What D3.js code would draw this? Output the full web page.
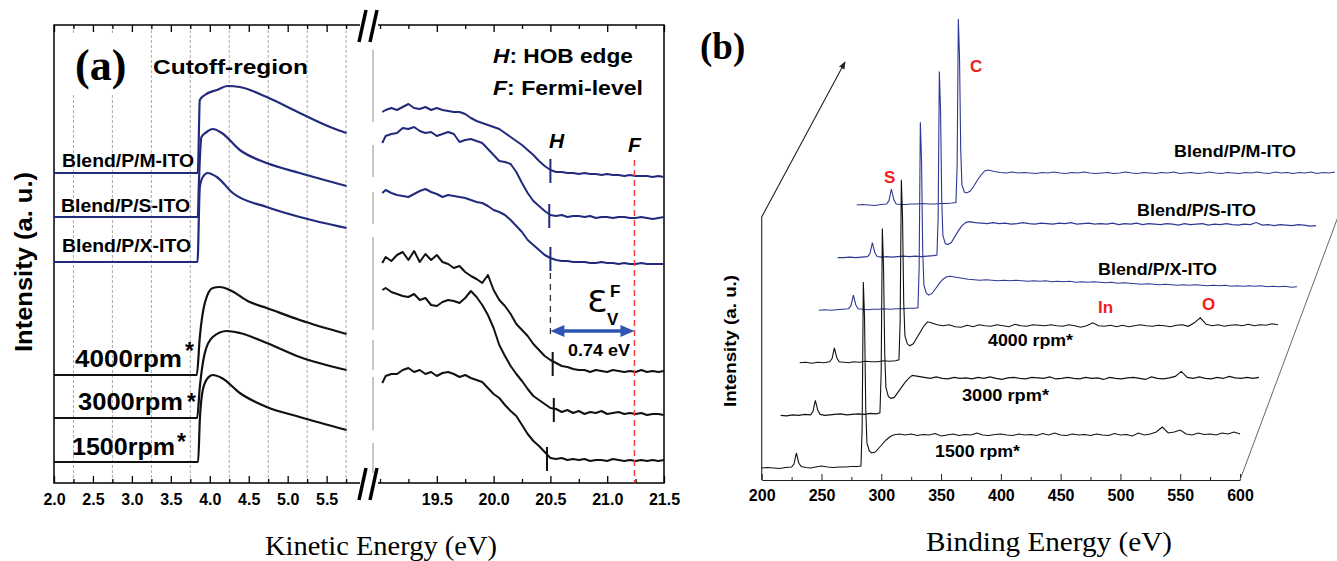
<!DOCTYPE html>
<html>
<head>
<meta charset="utf-8">
<script src="https://d3js.org/d3.v7.min.js"></script>
<style>
  body { margin: 0; background: #fff; }
  svg { display: block; }
</style>
</head>
<body>
<div id="vis"></div>
<script>
  // ---------- panel (a): cutoff region, [kinetic energy eV, intensity a.u.] ----------
  const cutM = [[2.0,310],[3.846,310],[3.872,383],[3.936,388],[4.09,393],[4.231,397],[4.385,396],[4.731,386],[5.154,370],[5.577,355],[5.756,350]]
  const cutS = [[2.0,266],[3.846,266],[3.86,300],[3.893,346],[3.96,351],[4.038,354],[4.154,350],[4.385,333],[4.731,320],[5.154,310],[5.756,297]]
  const cutX = [[2.0,221],[3.842,221],[3.872,296],[3.91,306],[3.974,310],[4.09,306],[4.295,290],[4.731,276],[5.154,266],[5.756,255]]
  const cut4000 = [[2.0,108],[3.833,108],[3.872,146],[3.936,180],[4.038,195],[4.128,196],[4.256,193],[4.513,181],[4.731,175],[5.154,163],[5.756,149]]
  const cut3000 = [[2.0,65],[3.837,65],[3.872,96],[3.936,130],[4.038,146],[4.218,152],[4.385,150],[4.731,140],[5.154,126],[5.756,113]]
  const cut1500 = [[2.0,21],[3.85,21],[3.872,63],[3.91,93],[3.974,105],[4.038,108],[4.154,105],[4.385,90],[4.731,76],[5.154,66],[5.756,53]]

  // ---------- panel (a): valence region ----------
  const valE = [19.02,19.05,19.10,19.15,19.20,19.25,19.30,19.35,19.40,19.45,
    19.50,19.55,19.60,19.65,19.70,19.75,19.80,19.85,19.90,19.95,
    20.00,20.05,20.10,20.15,20.20,20.25,20.30,20.35,20.40,20.45,
    20.50,20.55,20.60,20.65,20.70,20.75,20.80,20.85,20.90,20.95,
    21.00,21.05,21.10,21.15,21.20,21.25,21.30,21.35,21.40,21.45,
    21.50]
  const valM = [371,373,375,373,376,379,375,374,376,373, 375,373,372,371,371,369,365,362,360,358,
    356,354,350,346,342,338,333,328,322,317, 313,311,311,310,310,309,310,309,309,308,
    309,308,308,307,308,307,307,307,306,307, 306]
  const valS = [340,347,349,350,355,354,356,352,350,351, 347,349,351,349,341,343,344,342,340,334,
    328,322,321,319,311,300,290,282,277,272, 268,267,268,266,267,267,266,267,265,266,
    266,265,266,266,265,265,266,265,264,265, 266]
  const valX = [290,293,290,288,287,286,289,292,294,291, 289,286,288,287,286,285,283,281,280,277,
    273,271,268,263,257,251,243,238,233,228, 225,223,222,222,221,221,221,220,220,221,
    220,220,219,220,219,219,220,219,219,219, 219]
  const val4000 = [220,226,222,228,231,223,232,221,229,223, 228,221,219,215,217,211,207,204,200,208,
    193,183,177,169,159,153,147,139,133,127, 123,120,117,116,114,113,113,111,113,112,
    111,113,112,111,112,111,113,111,112,111, 112]
  const val3000 = [193,195,191,189,187,186,189,183,185,178, 177,181,183,182,180,185,192,186,178,168,
    155,138,127,117,109,102,94,87,83,79, 75,74,71,73,70,72,69,71,70,72,
    69,70,71,69,70,69,70,68,69,69, 68]
  const val1500 = [100,107,109,109,113,115,111,113,109,111, 107,110,111,109,106,108,105,103,101,95,
    89,85,78,72,67,58,49,42,37,31, 25,24,25,23,24,23,24,22,23,23,
    22,24,23,22,23,22,23,22,23,22, 23]

  const sampleNames = ['Blend/P/M-ITO', 'Blend/P/S-ITO', 'Blend/P/X-ITO', '4000rpm', '3000rpm', '1500rpm']
  const hobEdge = [20.50, 20.49, 20.50, 20.52, 20.53, 20.47]
  const fermiLevel = 21.24
  const cutTicks = [2.0, 2.5, 3.0, 3.5, 4.0, 4.5, 5.0, 5.5]
  const valTicks = [19.5, 20.0, 20.5, 21.0, 21.5]

  // ---------- panel (b): XPS survey, binding energy eV and intensity above each baseline ----------
  const surveyE = [200,205,210,215,220,225,227,229,231,233, 237,241,245,250,255,260,265,270,275,280,
    283,284,285,286,287,288,290,292,295,298, 301,304,307,310,315,
    320,325,330,335,340,345,350,355,360,365, 370,375,380,385,390,395,400,405,410,415,
    420,425,430,435,440,445,450,455,460,465, 470,475,480,485,490,495,500,505,510,515,
    520,525,530,535,540,545,550,555,560,565, 570,575,580,585,590,595,600]
  const sv1500 = [0,0.5,0,-0.5,0.5,1,4,15,5,1.5, 0.5,0,1,2,1,0.5,1,1,1.5,1.5,
    2,40,186,150,60,25,17,15,16,20, 24,28,31,33,34,
    33,34,32.5,33.5,33,34.5,32,33,34,32.5, 33.5,33,35,33,32.5,33.5,34,33,32.5,34,
    33,33.5,32.5,34.5,33,35,33,32.5,34,33, 33.5,32.5,34,33,32.5,34.5,33,33.5,32,35,
    33,34,36,41,35,36,38,34,33,35, 33.5,34,33,35,34,36,34]
  const sv3000 = [0,-0.5,0.5,0,1,0.5,4,15,5,1, 0,0.5,1,1.5,0.5,1,1.5,1,2,1.5,
    2.5,42,187,148,62,28,19,17,18,23, 28,33,37,40,39,
    38,37,38.5,37,36.5,38,37,37.5,36.5,38, 37,38.5,37,36,37.5,38,37,36.5,38,37.5,
    37,38.5,36.5,37,38,37,36.5,38,37,37.5, 36,38,37,36.5,37.5,38,37,36,38.5,37,
    36.5,37.5,39,44,38,37,38.5,37,36.5,38, 37,39,37.5,37,38,37,38]
  const sv4000 = [0,0.5,-0.5,0.5,0,1,4,15,5,1, 0.5,0,1,0.5,1.5,1,1,2,1.5,2,
    3,41,183,145,60,27,19,17,19,25, 31,37,41,40,38,
    37,38,36,35.5,37.5,36,38,37,36.5,38, 37,36,38.5,37,36.5,38,37.5,37,38,37,
    36.5,38,37,35.5,37,40,37,36.5,37.5,36, 37.5,36,37,38,37,36.5,37.5,37,36,37.5,
    38,36.5,40,45,38.5,37,38,36.5,37.5,38, 37,38.5,37,38,37.5,39,38]
  const svX = [0,0.5,0,0.5,1,1.5,4.5,15,5.5,1.5, 1,0.5,1,1,1.5,1,1.5,1.5,2,2,
    2.5,42,188,150,58,25,17,15,17,22, 27,31,33.5,34,33,
    32,31,30.5,30,30.5,30,29.5,30,29.5,30, 29.5,29,29.5,29,29.5,28.5,29,28.5,29,28,
    28.5,28,28.5,28,27.5,28,27,27.5,27,26.5, 26,26.5,26,25.5,26,25.5,25,25.5,25,25.5,
    25,24.5,25,24.5,25,24,24.5,24,24.5,24, 24.5,23.5,24,23.5,24,23,23.5]
  const svS = [0,0,0.5,0,0.5,1,4,15,5,1, 0.5,1,0.5,1,1.5,1,1.5,1,1.5,2,
    2.5,40,186,148,57,22,14,13,15,21, 27,32,35,36,35,
    34.5,34,35,34,34.5,33.5,34,35,34,33.5, 34.5,34,33.5,34.5,34,35,33.5,34,34.5,33.5,
    34,33.5,34.5,33,34,33.5,34.5,33,34,33.5, 33,34,33.5,32.5,34,33,33.5,34,32.5,33.5,
    33,34,33,32.5,33.5,33,35,32.5,33,32, 33,32.5,32,33,32.5,31.5,32]
  const svM = [0,0.5,0,-0.5,0.5,1,4.5,16,5.5,1, 0.5,0.5,1,1,1.5,1,1,1.5,1.5,2,
    2.5,40,186,147,55,20,13,12,14,19, 25,30,34,35,33.5,
    32.5,32,33,32,32.5,32,31.5,32.5,32,33, 32,31.5,32.5,32,33,32,31.5,32,32.5,31.5,
    32,33,32,31.5,32.5,32,31.5,32.5,32,33, 31.5,32,32.5,31.5,32,33,32,31.5,32.5,32,
    31.5,32.5,32,33,32,31.5,33,32,32.5,31.5, 32.5,32,33,31.5,32.5,32,33]
  const surveyNames = ['1500 rpm*', '3000 rpm*', '4000 rpm*', 'Blend/P/X-ITO', 'Blend/P/S-ITO', 'Blend/P/M-ITO']
  const surveyTicks = [200, 250, 300, 350, 400, 450, 500, 550, 600]

  const SANS = '"Liberation Sans", Arial, sans-serif'
  const SERIF = '"Liberation Serif", "Times New Roman", serif'
  const NAVY = '#222a7c'
  const BLUE_B = '#2e3894'
  const INK = '#111'

  var svg = d3.select('#vis').append('svg')
    .attr('width', 1337)
    .attr('height', 561)

  // =================== panel (a) ===================
  var yTop = 25, yBottom = 483
  var xCut = d3.scaleLinear().domain([2.0, 5.8]).range([54, 350])
  var xVal = d3.scaleLinear().domain([19.0, 21.5]).range([380, 664])
  var yA = d3.scaleLinear().domain([0, 458]).range([yBottom, yTop])

  // dashed grid in the cutoff part
  var cutMinor = d3.range(2.25, 5.8, 0.5)
  svg.selectAll('.grid').data(cutMinor).enter().append('line')
    .attr('x1', d => xCut(d)).attr('x2', d => xCut(d))
    .attr('y1', yTop).attr('y2', yBottom)
    .attr('stroke', '#aaa').attr('stroke-width', 1).attr('stroke-dasharray', '3,2')

  // grey long-dashed line next to the break
  svg.append('line')
    .attr('x1', 373).attr('x2', 373).attr('y1', 50).attr('y2', 473)
    .attr('stroke', '#b5b5b5').attr('stroke-width', 1.5)
    .attr('stroke-dasharray', '72,23,32,15,32,13,93,10,30,7,53,13,30')

  // frame
  var frame = svg.append('g').attr('stroke', '#000').attr('stroke-width', 1.5).attr('fill', 'none')
  frame.append('path').attr('d', `M360,${yTop}H54V${yBottom}H360`)
  frame.append('path').attr('d', `M378,${yTop}H664V${yBottom}H378`)

  function inward(axis, y, labelled) {
    var g = svg.append('g').attr('transform', 'translate(0,' + y + ')').call(axis)
    g.select('.domain').remove()
    g.selectAll('.tick line').attr('stroke', '#000').attr('stroke-width', 1.3)
    if (labelled) {
      g.selectAll('.tick text')
        .attr('y', 22).attr('dy', 0)
        .attr('fill', '#000')
        .style('font-family', SANS).style('font-weight', 'bold').style('font-size', '16px')
    }
    return g
  }
  var fmt = d3.format('.1f')
  inward(d3.axisBottom(xCut).tickValues(cutTicks).tickSize(-7).tickSizeOuter(0).tickFormat(fmt), yBottom, true)
  inward(d3.axisBottom(xCut).tickValues(cutMinor).tickSize(-4).tickSizeOuter(0).tickFormat(''), yBottom, false)
  inward(d3.axisTop(xCut).tickValues(cutTicks).tickSize(-7).tickSizeOuter(0).tickFormat(''), yTop, false)
  inward(d3.axisTop(xCut).tickValues(cutMinor).tickSize(-4).tickSizeOuter(0).tickFormat(''), yTop, false)
  var valMinor = d3.range(19.0, 21.3, 0.5).map(d => d + 0.25)
  inward(d3.axisBottom(xVal).tickValues(valTicks).tickSize(-7).tickSizeOuter(0).tickFormat(fmt), yBottom, true)
  inward(d3.axisBottom(xVal).tickValues(valMinor).tickSize(-4).tickSizeOuter(0).tickFormat(''), yBottom, false)
  inward(d3.axisTop(xVal).tickValues(valTicks).tickSize(-7).tickSizeOuter(0).tickFormat(''), yTop, false)
  inward(d3.axisTop(xVal).tickValues(valMinor).tickSize(-4).tickSizeOuter(0).tickFormat(''), yTop, false)
  inward(d3.axisBottom(xVal).tickValues([19.0]).tickSize(-4).tickSizeOuter(0).tickFormat(''), yBottom, false)
  inward(d3.axisTop(xVal).tickValues([19.0]).tickSize(-4).tickSizeOuter(0).tickFormat(''), yTop, false)

  // axis break marks
  ;[yTop, yBottom].forEach(function (yy) {
    svg.append('rect').attr('x', 361).attr('y', yy - 3).attr('width', 16).attr('height', 6).attr('fill', '#fff')
    ;[0, 11].forEach(function (o) {
      svg.append('line')
        .attr('x1', 359 + o).attr('y1', yy + 17).attr('x2', 366 + o).attr('y2', yy - 15)
        .attr('stroke', '#000').attr('stroke-width', 3.5)
    })
  })

  var cutSeries = [cutM, cutS, cutX, cut4000, cut3000, cut1500]
  var valSeries = [valM, valS, valX, val4000, val3000, val1500]
  var colours = [NAVY, NAVY, NAVY, INK, INK, INK]

  var cutLine = d3.line().x(d => xCut(d[0])).y(d => yA(d[1])).curve(d3.curveMonotoneX)
  svg.selectAll('.cut').data(cutSeries).enter().append('path')
    .attr('d', cutLine).attr('fill', 'none')
    .attr('stroke', (d, i) => colours[i]).attr('stroke-width', 2.2)

  var valLine = d3.line().x((d, i) => xVal(valE[i])).y(d => yA(d))
  svg.selectAll('.val').data(valSeries).enter().append('path')
    .attr('d', valLine).attr('fill', 'none')
    .attr('stroke', (d, i) => colours[i]).attr('stroke-width', 2).attr('stroke-linejoin', 'round')

  // H marks on each spectrum
  var bis = d3.bisector(d => d).left
  valSeries.forEach(function (s, i) {
    var k = Math.min(bis(valE, hobEdge[i]), valE.length - 1)
    var yy = yA(s[k])
    svg.append('line')
      .attr('x1', xVal(hobEdge[i])).attr('x2', xVal(hobEdge[i]))
      .attr('y1', yy - 11).attr('y2', yy + 13)
      .attr('stroke', colours[i]).attr('stroke-width', 2)
  })

  // Fermi level
  svg.append('line')
    .attr('x1', xVal(fermiLevel)).attr('x2', xVal(fermiLevel))
    .attr('y1', 160).attr('y2', yBottom)
    .attr('stroke', '#ff3b3b').attr('stroke-width', 1.5).attr('stroke-dasharray', '6,4')
  svg.append('line')
    .attr('x1', xVal(20.5)).attr('x2', xVal(20.5)).attr('y1', 273).attr('y2', 338)
    .attr('stroke', '#333').attr('stroke-width', 1.3).attr('stroke-dasharray', '6,5')

  // 0.74 eV double arrow
  var ax1 = xVal(20.5), ax2 = xVal(fermiLevel), ay = 331
  svg.append('line').attr('x1', ax1 + 10).attr('x2', ax2 - 10).attr('y1', ay).attr('y2', ay)
    .attr('stroke', '#2f55b4').attr('stroke-width', 3.5)
  svg.append('path').attr('fill', '#2f55b4')
    .attr('d', `M${ax1},${ay}l14,-6v12z M${ax2},${ay}l-14,-6v12z`)

  // texts panel (a)
  svg.append('rect').attr('x', 68).attr('y', 34).attr('width', 66).attr('height', 60).attr('fill', '#fff')
  svg.append('text').attr('x', 75).attr('y', 80).text('(a)')
    .style('font-family', SERIF).style('font-weight', 'bold').style('font-size', '44px')
  svg.append('text').attr('x', 153).attr('y', 74).text('Cutoff-region')
    .attr('textLength', 155).attr('lengthAdjust', 'spacingAndGlyphs')
    .style('font-family', SANS).style('font-weight', 'bold').style('font-size', '21px')

  var nameSpots = [[62, 167, 132], [61, 212, 129], [62, 252, 129], [75, 367, 107], [78, 410, 105], [72, 455, 103]]
  var starSpots = [[185, 359], [187, 410], [177, 450]]
  sampleNames.forEach(function (n, i) {
    var big = i > 2
    svg.append('text').attr('x', nameSpots[i][0]).attr('y', nameSpots[i][1]).text(n)
      .attr('textLength', nameSpots[i][2]).attr('lengthAdjust', 'spacingAndGlyphs')
      .style('font-family', SANS).style('font-weight', 'bold').style('font-size', big ? '23px' : '18px')
    if (big) {
      svg.append('text').attr('x', starSpots[i - 3][0]).attr('y', starSpots[i - 3][1]).text('*')
        .style('font-family', SANS).style('font-weight', 'bold').style('font-size', '23px')
    }
  })

  function keyText(letter, rest, x, y, w) {
    var t = svg.append('text').attr('x', x).attr('y', y)
      .attr('textLength', w).attr('lengthAdjust', 'spacingAndGlyphs')
      .style('font-family', SANS).style('font-weight', 'bold').style('font-size', '20px')
    t.append('tspan').style('font-style', 'italic').text(letter)
    t.append('tspan').text(rest)
  }
  keyText('H', ': HOB edge', 493, 63, 140)
  keyText('F', ': Fermi-level', 493, 95, 150)

  svg.append('text').attr('x', 549).attr('y', 148).text('H')
    .style('font-family', SANS).style('font-weight', 'bold').style('font-style', 'italic').style('font-size', '21px')
  svg.append('text').attr('x', 628).attr('y', 152).text('F')
    .style('font-family', SANS).style('font-weight', 'bold').style('font-style', 'italic').style('font-size', '21px')

  svg.append('text').attr('x', 587).attr('y', 312).text('Ɛ')
    .attr('textLength', 20).attr('lengthAdjust', 'spacingAndGlyphs')
    .style('font-family', '"DejaVu Sans", sans-serif').style('font-size', '30px')
  svg.append('text').attr('x', 610).attr('y', 297).text('F')
    .style('font-family', SANS).style('font-weight', 'bold').style('font-size', '17px')
  svg.append('text').attr('x', 607).attr('y', 325).text('V')
    .style('font-family', SANS).style('font-weight', 'bold').style('font-size', '17px')
  svg.append('text').attr('x', 568).attr('y', 356).text('0.74 eV')
    .attr('textLength', 62).attr('lengthAdjust', 'spacingAndGlyphs')
    .style('font-family', SANS).style('font-weight', 'bold').style('font-size', '17px')

  svg.append('text').attr('transform', 'translate(32,262) rotate(-90)').attr('text-anchor', 'middle')
    .text('Intensity (a. u.)')
    .attr('textLength', 180).attr('lengthAdjust', 'spacingAndGlyphs')
    .style('font-family', SANS).style('font-weight', 'bold').style('font-size', '23px')
  svg.append('text').attr('x', 265).attr('y', 555).text('Kinetic Energy (eV)')
    .attr('textLength', 232).attr('lengthAdjust', 'spacingAndGlyphs')
    .style('font-family', SERIF).style('font-size', '28px')

  // =================== panel (b) ===================
  var xB = d3.scaleLinear().domain([200, 600]).range([761.7, 1240])
  var yB = d3.scaleLinear().domain([0, 200]).range([0, -200])
  var axisY = 480

  var bAxis = d3.axisBottom(xB).tickValues(surveyTicks).tickSize(-6).tickSizeOuter(0).tickFormat(d3.format('d'))
  var gB = svg.append('g').attr('transform', 'translate(0,' + axisY + ')').call(bAxis)
  gB.select('.domain').attr('stroke', '#222').attr('stroke-width', 1.2)
  gB.selectAll('.tick line').attr('stroke', '#222')
  gB.selectAll('.tick text').attr('y', 21).attr('dy', 0).attr('fill', '#000')
    .style('font-family', SANS).style('font-weight', 'bold').style('font-size', '16px')
  var gB2 = svg.append('g').attr('transform', 'translate(0,' + axisY + ')')
    .call(d3.axisBottom(xB).tickValues(d3.range(225, 600, 50)).tickSize(-3).tickSizeOuter(0).tickFormat(''))
  gB2.select('.domain').remove()
  gB2.selectAll('.tick line').attr('stroke', '#222')

  svg.append('defs').append('marker')
    .attr('id', 'head').attr('viewBox', '0 0 10 10').attr('refX', 9).attr('refY', 5)
    .attr('markerWidth', 7).attr('markerHeight', 7).attr('orient', 'auto')
    .append('path').attr('d', 'M0,1L10,5L0,9z').attr('fill', '#222')
  svg.append('path').attr('d', `M${xB(200)},${axisY}V217L845,62`)
    .attr('fill', 'none').attr('stroke', '#222').attr('stroke-width', 1.1).attr('marker-end', 'url(#head)')
  svg.append('line').attr('x1', xB(600)).attr('y1', axisY).attr('x2', 1345).attr('y2', 198)
    .attr('stroke', '#666').attr('stroke-width', 1)

  var surveySeries = [sv1500, sv3000, sv4000, svX, svS, svM]
  var surveyColour = [INK, INK, INK, BLUE_B, BLUE_B, BLUE_B]
  var svLine = d3.line().x((d, i) => xB(surveyE[i])).y(d => yB(d))
  for (var i = surveySeries.length - 1; i >= 0; i--) {
    svg.append('g').attr('transform', 'translate(' + (19 * i) + ',' + (468 - 52.6 * i) + ')')
      .append('path').attr('d', svLine(surveySeries[i]))
      .attr('fill', 'none').attr('stroke', surveyColour[i]).attr('stroke-width', 1.1)
  }

  var surveySpots = [[935, 457, 85], [962, 401, 87], [988, 346, 85], [1098, 275, 119], [1137, 216, 119], [1174, 157, 122]]
  surveyNames.forEach(function (n, i) {
    svg.append('text').attr('x', surveySpots[i][0]).attr('y', surveySpots[i][1]).text(n)
      .attr('textLength', surveySpots[i][2]).attr('lengthAdjust', 'spacingAndGlyphs')
      .style('font-family', SANS).style('font-weight', 'bold').style('font-size', '17px')
  })
  var elements = [['C', 970, 72], ['S', 884, 183], ['In', 1098, 313], ['O', 1202, 310]]
  elements.forEach(function (e) {
    svg.append('text').attr('x', e[1]).attr('y', e[2]).text(e[0])
      .attr('fill', '#f02020')
      .style('font-family', SANS).style('font-weight', 'bold').style('font-size', '17px')
  })

  svg.append('text').attr('x', 700).attr('y', 59).text('(b)')
    .style('font-family', SERIF).style('font-weight', 'bold').style('font-size', '37px')
  svg.append('text').attr('transform', 'translate(736,341) rotate(-90)').attr('text-anchor', 'middle')
    .text('Intensity (a. u.)')
    .attr('textLength', 132).attr('lengthAdjust', 'spacingAndGlyphs')
    .style('font-family', SANS).style('font-weight', 'bold').style('font-size', '17px')
  svg.append('text').attr('x', 926).attr('y', 551).text('Binding Energy (eV)')
    .attr('textLength', 246).attr('lengthAdjust', 'spacingAndGlyphs')
    .style('font-family', SERIF).style('font-size', '27px')
</script>
</body>
</html>
